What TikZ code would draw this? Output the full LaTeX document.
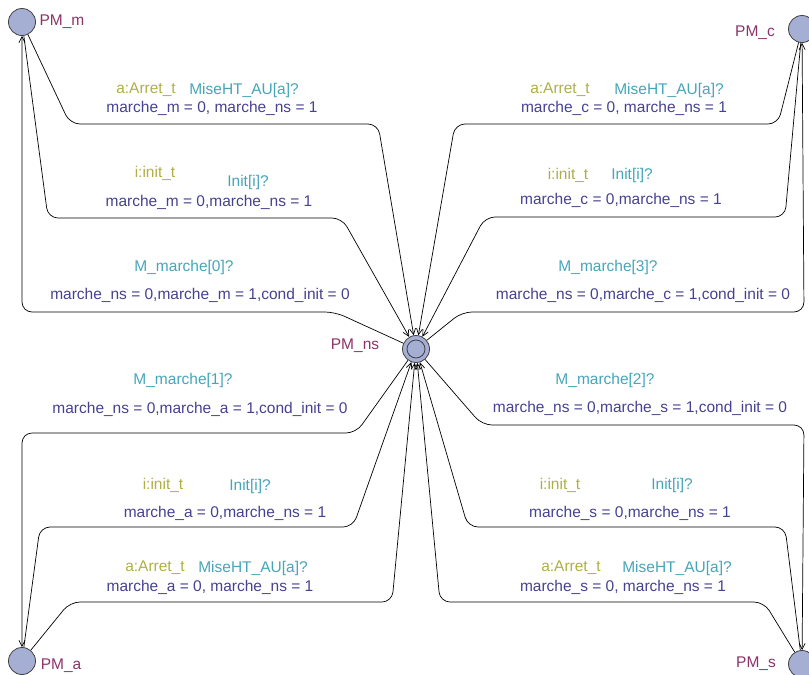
\documentclass[tikz,border=0pt]{standalone}
\usepackage{fontspec}
\setmainfont{Liberation Sans}
\usetikzlibrary{arrows.meta}
\definecolor{locname}{RGB}{140,50,105}
\definecolor{selcol}{RGB}{175,175,70}
\definecolor{synccol}{RGB}{70,165,185}
\definecolor{updcol}{RGB}{70,65,145}
\definecolor{locfill}{RGB}{165,175,212}
\tikzstyle{loc}=[draw=black!75,fill=locfill,circle,minimum size=27pt,inner sep=0pt,line width=0.8pt]
\tikzstyle{locl}=[text=locname]
\tikzstyle{sel}=[text=selcol]
\tikzstyle{sync}=[text=synccol]
\tikzstyle{upd}=[text=updcol]
\tikzstyle{trans}=[->,rounded corners=10pt,line width=0.7pt]
\tikzstyle{every node}=[font=\fontsize{15.5}{18}\selectfont]

\begin{document}
\begin{tikzpicture}[x=1pt,y=-1pt,>={Straight Barb[length=6pt,width=6pt]}]
    \useasboundingbox (0,0) rectangle (809,675);
    % locations
    \node[loc] (m) at (22,22) {};
    \node[loc] (c) at (802,29) {};
    \node[loc] (a) at (22,661) {};
    \node[loc] (s) at (802,664) {};
    \node[loc] (ns) at (416,349) {};
    \node[loc, minimum size=18pt] (nsin) at (ns) {};
    \node[locl] (mname) at (62,22) {PM\_m};
    \node[locl] (cname) at (755,33) {PM\_c};
    \node[locl] (aname) at (61,666) {PM\_a};
    \node[locl] (sname) at (756,664) {PM\_s};
    \node[locl] (nsname) at (355,346) {PM\_ns};
    % PM_m
    \draw[trans] (m) -- (70,124) -- (378,124) -- (ns);
    \draw[trans] (m) -- (48,218) -- (342,218) -- (ns);
    \draw[trans] (ns) -- (335,312) -- (22,312) -- (m);
    \node[sel] (selm) at (146,90) {a:Arret\_t};
    \node[sync] (syncm) at (244,90) {MiseHT\_AU[a]?};
    \node[upd] (updm) at (212,108) {marche\_m = 0, marche\_ns = 1};
    \node[sel] (selim) at (155,173) {i:init\_t};
    \node[sync] (syncim) at (248,182) {Init[i]?};
    \node[upd] (updim) at (209,202) {marche\_m = 0,marche\_ns = 1};
    \node[sync] (syncmm) at (184,267) {M\_marche[0]?};
    \node[upd] (updmm) at (200,295) {marche\_ns = 0,marche\_m = 1,cond\_init = 0};
    % PM_c
    \draw[trans] (c) -- (778,124) -- (455,124) -- (ns);
    \draw[trans] (c) -- (785,217) -- (485,217) -- (ns);
    \draw[trans] (ns) -- (462,312) -- (804,312) -- (c);
    \node[sel] (selc) at (560,90) {a:Arret\_t};
    \node[sync] (syncc) at (669,90) {MiseHT\_AU[a]?};
    \node[upd] (updc) at (624,108) {marche\_c = 0, marche\_ns = 1};
    \node[sel] (selic) at (568,175) {i:init\_t};
    \node[sync] (syncic) at (632,175) {Init[i]?};
    \node[upd] (updic) at (621,200) {marche\_c = 0,marche\_ns = 1};
    \node[sync] (syncmc) at (608,267) {M\_marche[3]?};
    \node[upd] (updmc) at (643,295) {marche\_ns = 0,marche\_c = 1,cond\_init = 0};
    % PM_a
    \draw[trans] (ns) -- (356,433) -- (22,433) -- (a);
    \draw[trans] (a) -- (40,527) -- (353,527) -- (ns);
    \draw[trans] (a) -- (70,602) -- (392,602) -- (ns);
    \node[sync] (syncma) at (183,380) {M\_marche[1]?};
    \node[upd] (updma) at (200,409) {marche\_ns = 0,marche\_a = 1,cond\_init = 0};
    \node[sel] (selia) at (163,485) {i:init\_t};
    \node[sync] (syncia) at (250,486) {Init[i]?};
    \node[upd] (updia) at (225,513) {marche\_a = 0,marche\_ns = 1};
    \node[sel] (sela) at (155,568) {a:Arret\_t};
    \node[sync] (synca) at (253,568) {MiseHT\_AU[a]?};
    \node[upd] (upda) at (210,587) {marche\_a = 0, marche\_ns = 1};
    % PM_s
    \draw[trans] (ns) -- (482,425) -- (804,425) -- (s);
    \draw[trans] (s) -- (785,527) -- (468,527) -- (ns);
    \draw[trans] (s) -- (764,602) -- (440,602) -- (ns);
    \node[sync] (syncms) at (605,380) {M\_marche[2]?};
    \node[upd] (updms) at (640,408) {marche\_ns = 0,marche\_s = 1,cond\_init = 0};
    \node[sel] (selis) at (560,485) {i:init\_t};
    \node[sync] (syncis) at (672,485) {Init[i]?};
    \node[upd] (updis) at (630,513) {marche\_s = 0,marche\_ns = 1};
    \node[sel] (sels) at (571,568) {a:Arret\_t};
    \node[sync] (syncs) at (677,568) {MiseHT\_AU[a]?};
    \node[upd] (upds) at (623,587) {marche\_s = 0, marche\_ns = 1};
\end{tikzpicture}
\end{document}
